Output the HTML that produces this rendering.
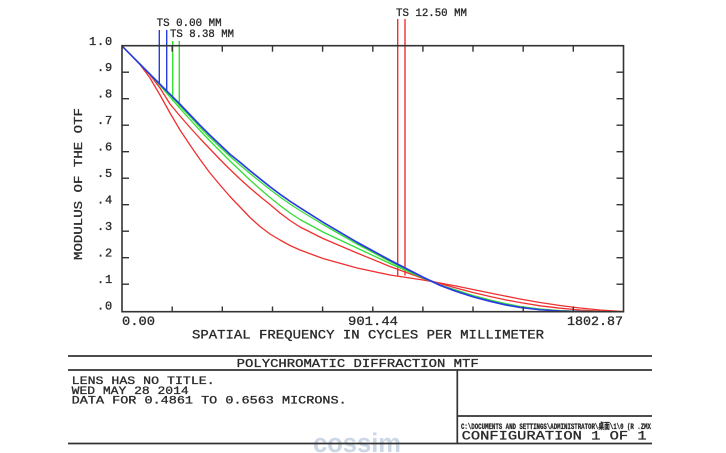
<!DOCTYPE html>
<html>
<head>
<meta charset="utf-8">
<style>
html,body{margin:0;padding:0;background:#fff;}
body{width:726px;height:453px;overflow:hidden;}
svg{display:block;}
text{font-family:"Liberation Mono","Noto Sans CJK SC",monospace;fill:#2a2a2a;stroke:#2a2a2a;stroke-width:0.3px;}
</style>
</head>
<body>
<svg width="726" height="453" viewBox="0 0 726 453" xmlns="http://www.w3.org/2000/svg">
<rect x="0" y="0" width="726" height="453" fill="#fff"/>

<!-- watermark -->
<text x="313" y="452" font-weight="bold" font-size="27" textLength="88" lengthAdjust="spacingAndGlyphs" style="fill:#cbd7e6;stroke:none;font-family:'Liberation Sans',sans-serif">cossim</text>

<!-- legend labels -->
<text x="156.7" y="26" font-size="10.6" textLength="65" lengthAdjust="spacingAndGlyphs">TS 0.00 MM</text>
<text x="170" y="37" font-size="10.6" textLength="64" lengthAdjust="spacingAndGlyphs">TS 8.38 MM</text>
<text x="396" y="16" font-size="10.6" textLength="71" lengthAdjust="spacingAndGlyphs">TS 12.50 MM</text>

<!-- legend vertical lines -->
<g stroke-width="1.4" fill="none">
<line x1="159.3" y1="30" x2="159.3" y2="83.5" stroke="#2a3ce0"/>
<line x1="166.7" y1="30" x2="166.7" y2="92" stroke="#2a3ce0"/>
<line x1="172.7" y1="41" x2="172.7" y2="101" stroke="#35dd35"/>
<line x1="179.3" y1="41" x2="179.3" y2="106.5" stroke="#35dd35"/>
<line x1="397.7" y1="19" x2="397.7" y2="276.5" stroke="#f03030"/>
<line x1="405" y1="19" x2="405" y2="275.5" stroke="#f03030"/>
</g>

<!-- curves -->
<g fill="none" stroke-width="1.3" stroke-linejoin="round">
<polyline stroke="#f03030" points="122,46 130,54 140,64.5 150,78 160,95 170,113 180,130 190,145 200,159.5 210,173 220,185 230,196.5 240,207 250,217.5 260,226.5 270,234 280,240 290,245.5 300,250 323,258.5 357,268 390,275 423,280 440,283 456,286 473,289.5 490,293 505,296 520,299 540,302.5 560,305.5 580,308 600,310 623,311.5"/>
<polyline stroke="#f03030" points="122,46 140,64 150,75 160,88 170,104 180,116 190,127.5 200,138.5 210,149 220,159.5 230,169.5 240,179 250,188 260,196.5 270,204.5 280,213 290,220.5 300,227 323,238.5 357,253 390,266.5 423,278.5 440,283.5 456,288 473,292.5 490,296.5 505,299.8 520,302.5 540,305.8 560,308.2 580,310 600,311.2 623,311.7"/>
<polyline stroke="#35dd35" points="122,46 140,64 150,74.5 160,85.5 170,97 180,108.5 190,119.5 200,130.5 210,141 220,151 230,161 240,170.5 250,180 260,189 270,197.5 280,205.5 290,213 300,219.5 323,232 357,248 390,263.5 423,278 440,285 456,290 473,295.5 490,300 505,303.5 520,306.5 540,309 560,310.7 580,311.4 605,311.7"/>
<polyline stroke="#35dd35" points="122,46 140,64 160,84.5 170,95 180,106 190,116.5 200,127.5 210,137.5 220,147 230,156.5 240,165 250,173.5 260,181.5 270,189.5 280,197 290,204 300,210.5 323,224.5 357,244 390,261.5 423,277.5 440,285 456,290.5 473,296 490,300.5 505,304 520,306.8 540,309.3 560,310.8 580,311.4 600,311.7"/>
<polyline stroke="#2a3ce0" points="122,46 140,64 160,84 170,94 180,104 190,114.5 200,125 210,135 220,144.5 230,154 240,162 250,170.5 260,178.5 270,186.5 280,194 290,201 300,207.5 323,222 357,242 390,260 423,277 440,285 456,291 473,296.5 490,301 505,304.5 520,307.2 540,309.6 560,310.9 580,311.4 600,311.7"/>
<polyline stroke="#2a3ce0" points="122,46 140,64.5 160,84.5 170,94.5 180,104.5 190,115 200,125.5 210,135.5 220,145 230,154.5 240,162.5 250,171 260,179 270,187 280,194.5 290,201.5 300,208 323,222.5 357,242.5 390,260.5 423,277.5 440,285.5 456,291.5 473,297 490,301.5 505,305 520,307.6 540,309.9 560,311 580,311.5"/>
</g>

<!-- axes box -->
<rect x="122" y="45.7" width="501.5" height="266" fill="none" stroke="#333" stroke-width="1.6"/>

<!-- ticks -->
<g stroke="#333" stroke-width="1.4">
<line x1="122" y1="72.2" x2="129" y2="72.2"/>
<line x1="122" y1="98.7" x2="129" y2="98.7"/>
<line x1="122" y1="125.2" x2="129" y2="125.2"/>
<line x1="122" y1="151.7" x2="129" y2="151.7"/>
<line x1="122" y1="178.2" x2="129" y2="178.2"/>
<line x1="122" y1="204.7" x2="129" y2="204.7"/>
<line x1="122" y1="231.2" x2="129" y2="231.2"/>
<line x1="122" y1="257.7" x2="129" y2="257.7"/>
<line x1="122" y1="284.2" x2="129" y2="284.2"/>
<line x1="616.5" y1="72.2" x2="623.5" y2="72.2"/>
<line x1="616.5" y1="98.7" x2="623.5" y2="98.7"/>
<line x1="616.5" y1="125.2" x2="623.5" y2="125.2"/>
<line x1="616.5" y1="151.7" x2="623.5" y2="151.7"/>
<line x1="616.5" y1="178.2" x2="623.5" y2="178.2"/>
<line x1="616.5" y1="204.7" x2="623.5" y2="204.7"/>
<line x1="616.5" y1="231.2" x2="623.5" y2="231.2"/>
<line x1="616.5" y1="257.7" x2="623.5" y2="257.7"/>
<line x1="616.5" y1="284.2" x2="623.5" y2="284.2"/>
<line x1="172.2" y1="45.7" x2="172.2" y2="51.7"/>
<line x1="222.3" y1="45.7" x2="222.3" y2="51.7"/>
<line x1="272.5" y1="45.7" x2="272.5" y2="51.7"/>
<line x1="322.6" y1="45.7" x2="322.6" y2="51.7"/>
<line x1="372.8" y1="45.7" x2="372.8" y2="51.7"/>
<line x1="422.9" y1="45.7" x2="422.9" y2="51.7"/>
<line x1="473" y1="45.7" x2="473" y2="51.7"/>
<line x1="523.2" y1="45.7" x2="523.2" y2="51.7"/>
<line x1="573.3" y1="45.7" x2="573.3" y2="51.7"/>
<line x1="172.2" y1="311.7" x2="172.2" y2="306.5"/>
<line x1="222.3" y1="311.7" x2="222.3" y2="306.5"/>
<line x1="272.5" y1="311.7" x2="272.5" y2="306.5"/>
<line x1="322.6" y1="311.7" x2="322.6" y2="306.5"/>
<line x1="372.8" y1="311.7" x2="372.8" y2="306.5"/>
<line x1="422.9" y1="311.7" x2="422.9" y2="306.5"/>
<line x1="473" y1="311.7" x2="473" y2="306.5"/>
<line x1="523.2" y1="311.7" x2="523.2" y2="306.5"/>
<line x1="573.3" y1="311.7" x2="573.3" y2="306.5"/>
</g>

<!-- y tick labels -->
<g font-size="12" text-anchor="end" letter-spacing="0.8">
<text x="113" y="45">1.0</text>
<text x="113" y="71.2">.9</text>
<text x="113" y="97.7">.8</text>
<text x="113" y="124.2">.7</text>
<text x="113" y="150.7">.6</text>
<text x="113" y="177.2">.5</text>
<text x="113" y="203.7">.4</text>
<text x="113" y="230.2">.3</text>
<text x="113" y="256.7">.2</text>
<text x="113" y="283.2">.1</text>
<text x="113" y="309.7">.0</text>
</g>

<!-- y axis title -->
<text transform="translate(82,184) rotate(-90)" font-size="11.5" text-anchor="middle" textLength="152" lengthAdjust="spacingAndGlyphs">MODULUS OF THE OTF</text>

<!-- x tick labels -->
<text x="122" y="325" font-size="12.5" textLength="33" lengthAdjust="spacingAndGlyphs">0.00</text>
<text x="348" y="325" font-size="12.5" textLength="50" lengthAdjust="spacingAndGlyphs">901.44</text>
<text x="567" y="325" font-size="12.5" textLength="56" lengthAdjust="spacingAndGlyphs">1802.87</text>
<text x="192" y="338.5" font-size="12.5" textLength="352" lengthAdjust="spacingAndGlyphs">SPATIAL FREQUENCY IN CYCLES PER MILLIMETER</text>

<!-- bottom box -->
<g stroke="#333" stroke-width="1.7">
<line x1="68" y1="356" x2="652" y2="356"/>
<line x1="68" y1="370" x2="652" y2="370"/>
<line x1="68" y1="443.5" x2="652" y2="443.5"/>
<line x1="457.3" y1="370" x2="457.3" y2="443.5"/>
<line x1="457.3" y1="416" x2="652" y2="416"/>
</g>

<text x="236.7" y="367" font-size="11.5" textLength="242" lengthAdjust="spacingAndGlyphs">POLYCHROMATIC DIFFRACTION MTF</text>
<text x="71.7" y="384" font-size="11" textLength="143" lengthAdjust="spacingAndGlyphs">LENS HAS NO TITLE.</text>
<text x="71.7" y="393.8" font-size="11" textLength="117" lengthAdjust="spacingAndGlyphs">WED MAY 28 2014</text>
<text x="71.7" y="403.5" font-size="11" textLength="275" lengthAdjust="spacingAndGlyphs">DATA FOR 0.4861 TO 0.6563 MICRONS.</text>

<text x="461" y="429" font-size="8.5" font-weight="bold" textLength="190" lengthAdjust="spacingAndGlyphs">C:\DOCUMENTS AND SETTINGS\ADMINISTRATOR\桌面\1\0 (R  .ZMX</text>
<text x="461.7" y="439.5" font-size="12.5" textLength="185" lengthAdjust="spacingAndGlyphs">CONFIGURATION 1 OF 1</text>
</svg>
</body>
</html>
